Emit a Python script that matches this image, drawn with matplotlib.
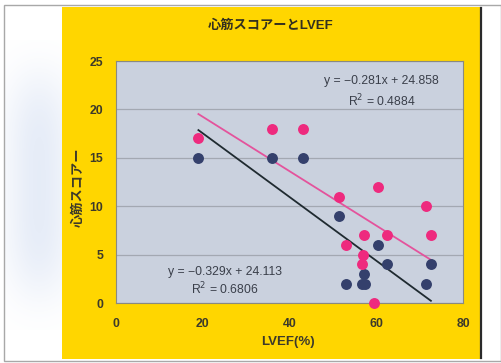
import numpy as np
import matplotlib
matplotlib.use("Agg")
import matplotlib.pyplot as plt
from matplotlib.patches import Rectangle
from matplotlib.lines import Line2D

plt.rcParams['font.family'] = ['Liberation Sans', 'Noto Sans CJK JP', 'DejaVu Sans']

# --- data -------------------------------------------------------------
title = "心筋スコアーとLVEF"
x_label = "LVEF(%)"
y_label = "心筋スコアー"

navy_lvef = [19, 36, 43, 51.5, 53, 56.6, 57.4, 57.2, 60.3, 62.4, 71.5, 72.6]
navy_score = [15, 15, 15, 9, 2, 2, 2, 3, 6, 4, 2, 4]

pink_lvef = [19, 36, 43, 51.5, 53, 56.6, 57, 57.2, 60.3, 59.4, 62.4, 71.5, 72.6]
pink_score = [17, 18, 18, 11, 6, 4, 5, 7, 12, 0, 7, 10, 7]

pink_slope, pink_intercept, pink_r2 = -0.281, 24.858, 0.4884
navy_slope, navy_intercept, navy_r2 = -0.329, 24.113, 0.6806

x_ticks = [0, 20, 40, 60, 80]
y_ticks = [0, 5, 10, 15, 20, 25]

# --- figure -----------------------------------------------------------
W, H = 501, 363
fig = plt.figure(figsize=(W / 100, H / 100), dpi=100)
fig.patch.set_facecolor('white')

def px_rect(x0, y0, x1, y1, **kw):
    """Rectangle in figure pixels, y measured from the top."""
    return Rectangle((x0 / W, 1 - y1 / H), (x1 - x0) / W, (y1 - y0) / H,
                     transform=fig.transFigure, **kw)

# soft bluish shading along the left margin
hx = np.linspace(0, 1, 60)
hy = np.linspace(0, 1, 300)
gx = np.exp(-((hx - 0.6) / 0.6) ** 2)
gy = np.exp(-((hy - 0.5) / 0.38) ** 4)
alpha = np.outer(gy, gx) * 0.35
rgba = np.zeros((300, 60, 4))
rgba[..., 0] = 0.72
rgba[..., 1] = 0.79
rgba[..., 2] = 0.92
rgba[..., 3] = alpha
haze_ax = fig.add_axes([5 / W, 1 - 330 / H, 57 / W, 290 / H], zorder=-5)
haze_ax.imshow(rgba, aspect='auto', interpolation='bilinear')
haze_ax.axis('off')

# outer page border
fig.patches.append(px_rect(4, 5, 501, 361, facecolor='none',
                           edgecolor='#a8a8a8', linewidth=1.0, zorder=-10))
# yellow chart area
fig.patches.append(px_rect(62, 7, 481, 359, facecolor='#FFD600',
                           edgecolor='none', zorder=-9))
fig.lines.append(Line2D([481 / W, 481 / W], [1 - 8 / H, 1 - 358 / H],
                        transform=fig.transFigure, color='#2a2a2a',
                        linewidth=1.6, zorder=-8))

ax = fig.add_axes([116 / W, 1 - 303 / H, (463 - 116) / W, (303 - 61) / H])
ax.set_facecolor('#CAD1DE')
ax.set_xlim(0, 80)
ax.set_ylim(0, 25)
ax.set_xticks(x_ticks)
ax.set_yticks(y_ticks)
ax.tick_params(length=0, labelsize=8.8, colors='#3d3a2a')
ax.tick_params(axis='x', pad=11)
ax.tick_params(axis='y', pad=9)
for lbl in ax.get_xticklabels() + ax.get_yticklabels():
    lbl.set_fontweight('bold')
ax.yaxis.grid(True, color='#a3a8b2', linewidth=0.9)
ax.set_axisbelow(True)
for side in ax.spines.values():
    side.set_color('#8a8a80')
    side.set_linewidth(0.8)

navy = '#34406C'
pink = '#EE2A7E'

# trend lines from the stated equations, over each series' x range
xs = np.array([min(pink_lvef), max(pink_lvef)])
ax.plot(xs, pink_slope * xs + pink_intercept, color='#E4539C', linewidth=1.3,
        zorder=2)
xs = np.array([min(navy_lvef), max(navy_lvef)])
ax.plot(xs, navy_slope * xs + navy_intercept, color='#1f2a30', linewidth=1.3,
        zorder=2)

ax.scatter(navy_lvef, navy_score, s=62, color=navy, zorder=3, clip_on=False,
           linewidths=0)
ax.scatter(pink_lvef, pink_score, s=62, color=pink, zorder=4, clip_on=False,
           linewidths=0)

eq_color = '#3a3f4a'
ax.text(61.2, 22.9, f"y = {pink_slope:.3f}x + {pink_intercept:.3f}".replace('-', '−'),
        ha='center', va='center', fontsize=8.8, color=eq_color)
ax.text(61.2, 20.9, f"R$^2$ = {pink_r2:.4f}", ha='center', va='center',
        fontsize=8.8, color=eq_color)
ax.text(25.2, 3.2, f"y = {navy_slope:.3f}x + {navy_intercept:.3f}".replace('-', '−'),
        ha='center', va='center', fontsize=8.8, color=eq_color)
ax.text(25.2, 1.4, f"R$^2$ = {navy_r2:.4f}", ha='center', va='center',
        fontsize=8.8, color=eq_color)

fig.text(271 / W, 1 - 26 / H, title, ha='center', va='center', fontsize=9.5,
         fontweight='bold', color='#33301f')
fig.text(288 / W, 1 - 342 / H, x_label, ha='center', va='center',
         fontsize=9.5, fontweight='bold', color='#3d3a2a')
fig.text(79 / W, 1 - 187 / H, y_label, ha='center', va='center',
         rotation=90, fontsize=9.5, fontweight='bold', color='#3d3a2a')

fig.savefig('out.png', dpi=100, facecolor=fig.get_facecolor())
